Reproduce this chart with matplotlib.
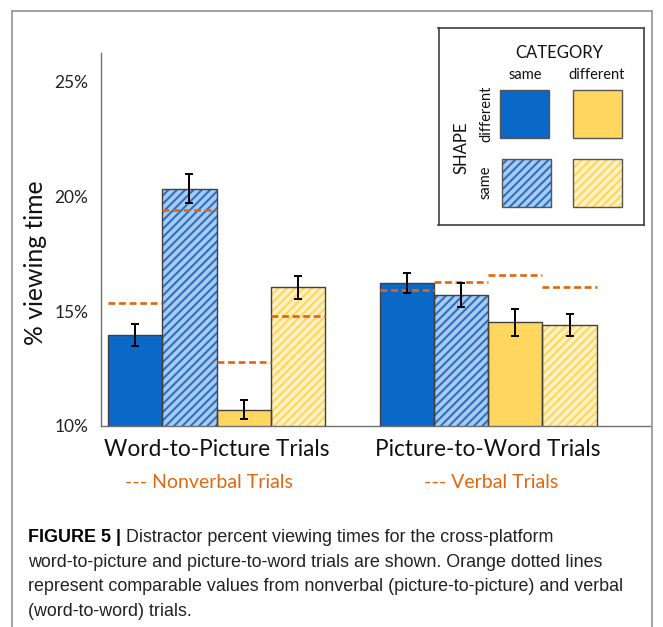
import matplotlib
matplotlib.use("Agg")
import matplotlib.pyplot as plt
from matplotlib.patches import Rectangle
from matplotlib.lines import Line2D
from matplotlib import font_manager as fm
import matplotlib.transforms as mtransforms

# ---------------- data ----------------
groups = ["Word-to-Picture Trials", "Picture-to-Word Trials"]
reference_labels = ["--- Nonverbal Trials", "--- Verbal Trials"]
conditions = ["cat same / shape different", "cat same / shape same",
              "cat different / shape different", "cat different / shape same"]
wp_values = [13.97, 20.35, 10.71, 16.04]
wp_errors = [0.47, 0.64, 0.42, 0.52]
pw_values = [16.23, 15.71, 14.52, 14.42]
pw_errors = [0.45, 0.51, 0.59, 0.48]
nonverbal_ref = [15.35, 19.42, 12.79, 14.78]
verbal_ref = [15.94, 16.29, 16.58, 16.04]
yticks = [10, 15, 20, 25]
ytick_labels = ["10%", "15%", "20%", "25%"]

# ---------------- styles ----------------
face_colors = ["#0A69C6", "#A9CBF0", "#FFD75E", "#FFF1C4"]
hatch_colors = ["#0A69C6", "#2A70C6", "#FFD75E", "#FFD65C"]
hatches = [None, "////", None, "////"]
orange = "#E2660F"
edge = "#3F3F3F"
label_shift = [-0.15, 0.05]

available = {f.name for f in fm.fontManager.ttflist}
chart_font = "Lato" if "Lato" in available else "DejaVu Sans"
cap_font = "Liberation Sans Narrow" if "Liberation Sans Narrow" in available else "Liberation Sans"
cap_size = 14 if cap_font == "Liberation Sans Narrow" else 12.9

W, H = 663, 627
fig = plt.figure(figsize=(W / 100, H / 100), dpi=100)
fig.patch.set_facecolor("white")


def fx(px):
    return px / W


def fy(py):
    return 1 - py / H


plt.rcParams["hatch.linewidth"] = 1.5

ax = fig.add_axes([fx(101), fy(426), fx(651) - fx(101), fy(53) - fy(426)])
ax.set_xlim(-0.63, 9.5)
ax.set_ylim(10, 26.26)

group_offsets = [0, 5]
all_vals = [wp_values, pw_values]
all_errs = [wp_errors, pw_errors]
all_refs = [nonverbal_ref, verbal_ref]

for g, off in enumerate(group_offsets):
    for i in range(4):
        x = off + i
        v = all_vals[g][i]
        if hatches[i]:
            ax.bar(x, v, width=1.0, color=face_colors[i], edgecolor=hatch_colors[i],
                   hatch=hatches[i], linewidth=0, zorder=2)
        else:
            ax.bar(x, v, width=1.0, color=face_colors[i], linewidth=0, zorder=2)
        ax.bar(x, v, width=1.0, fill=False, edgecolor=edge, linewidth=1.0, zorder=3)
        ax.hlines(all_refs[g][i], x - 0.5, x + 0.5, colors=orange,
                  linestyles=(0, (2.6, 1.4)), linewidth=1.9, zorder=4)
        ax.errorbar(x, v, yerr=all_errs[g][i], fmt="none", ecolor="black",
                    elinewidth=1.4, capsize=3, capthick=1.4, zorder=5)

for s in ["top", "right"]:
    ax.spines[s].set_visible(False)
for s in ["left", "bottom"]:
    ax.spines[s].set_color("#6E6E6E")
    ax.spines[s].set_linewidth(1.0)
ax.set_yticks(yticks)
ax.set_yticklabels(ytick_labels, fontsize=12.5, family=chart_font, color="#222222")
ax.tick_params(axis="y", length=0, pad=9)
ax.set_xticks([])

fig.text(fx(36), fy(263), "% viewing time", rotation=90, ha="center", va="center",
         fontsize=17.8, family=chart_font, color="#111111")

trans = mtransforms.blended_transform_factory(ax.transData, fig.transFigure)
for g, off in enumerate(group_offsets):
    cx = off + 1.5
    ax.text(cx, fy(450), groups[g], transform=trans, ha="center", va="center",
            fontsize=16.3, family=chart_font, color="#111111")
    ax.text(cx + label_shift[g], fy(482), reference_labels[g], transform=trans, ha="center",
            va="center", fontsize=14, family=chart_font, color=orange)

# ---------------- legend box ----------------
lx0, lx1, ly0, ly1 = 438.5, 644, 28, 225
axl = fig.add_axes([fx(lx0), fy(ly1), fx(lx1) - fx(lx0), fy(ly0) - fy(ly1)])
axl.set_xlim(lx0, lx1)
axl.set_ylim(ly1, ly0)
axl.set_xticks([])
axl.set_yticks([])
for s in axl.spines.values():
    s.set_color("#404040")
    s.set_linewidth(1.2)

swatches = [(500, 90), (502, 159), (573, 90), (573, 159)]
for i in range(4):
    sx, sy = swatches[i]
    axl.add_patch(Rectangle((sx, sy), 49, 48, facecolor=face_colors[i],
                            edgecolor=hatch_colors[i], hatch=hatches[i], linewidth=0))
    axl.add_patch(Rectangle((sx, sy), 49, 48, fill=False, edgecolor="#555555", linewidth=1.0))

lkw = dict(family=chart_font, color="#111111")
axl.text(559, 53, "CATEGORY", ha="center", va="center", fontsize=12, **lkw)
axl.text(525, 75, "same", ha="center", va="center", fontsize=10.5, **lkw)
axl.text(597, 75, "different", ha="center", va="center", fontsize=10.5, **lkw)
axl.text(486, 114, "different", ha="center", va="center", rotation=90, fontsize=10.5, **lkw)
axl.text(486, 182, "same", ha="center", va="center", rotation=90, fontsize=10.5, **lkw)
axl.text(462, 148, "SHAPE", ha="center", va="center", rotation=90, fontsize=12, **lkw)

# ---------------- frame ----------------
fcol = "#9A9A9A"
for xs, ys in [([12, 652], [11, 11]), ([12, 12], [11, 627]), ([652, 652], [11, 627])]:
    fig.add_artist(Line2D([fx(x) for x in xs], [fy(y) for y in ys], color=fcol,
                          linewidth=1.3, transform=fig.transFigure))

# ---------------- caption ----------------
cap_lines = [
    "word-to-picture and picture-to-word trials are shown. Orange dotted lines",
    "represent comparable values from nonverbal (picture-to-picture) and verbal",
    "(word-to-word) trials.",
]
bold = fig.text(fx(28), fy(542), "FIGURE 5 |", fontsize=cap_size, family=cap_font,
                weight="bold", color="black", va="baseline")
fig.canvas.draw()
bb = bold.get_window_extent(renderer=fig.canvas.get_renderer())
fig.text(bb.x1 / W, fy(542), " Distractor percent viewing times for the cross-platform",
         fontsize=cap_size, family=cap_font, color="#222222", va="baseline")
for k, line in enumerate(cap_lines):
    fig.text(fx(28), fy(542 + 24.7 * (k + 1)), line, fontsize=cap_size, family=cap_font,
             color="#222222", va="baseline")

fig.savefig("out.png", dpi=100, facecolor="white")
